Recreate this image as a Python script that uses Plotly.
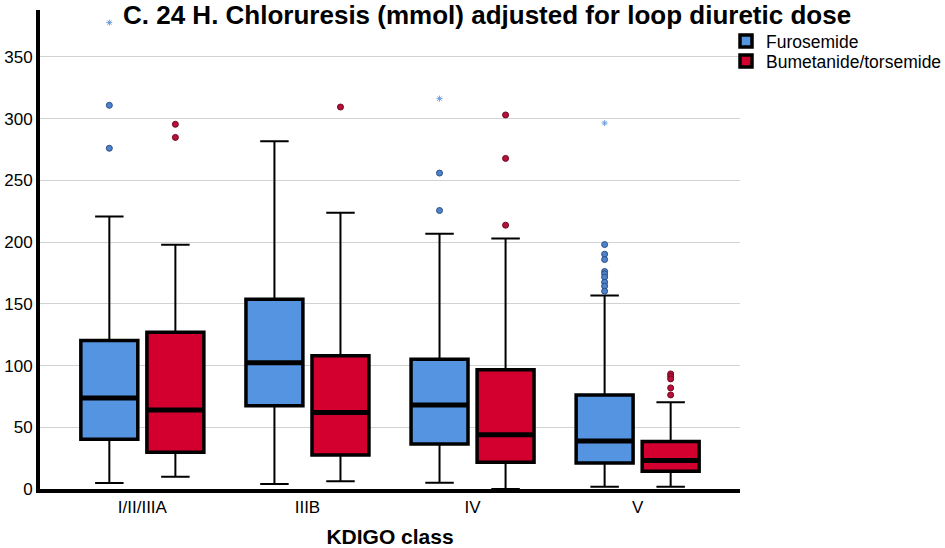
import plotly.graph_objects as go

categories = ["I/II/IIIA", "IIIB", "IV", "V"]
series_names = ["Furosemide", "Bumetanide/torsemide"]

# Furosemide box statistics
furo_q1 = [40.2, 67.5, 36.5, 21.1]
furo_median = [73.8, 102.2, 68.0, 38.9]
furo_q3 = [120.2, 153.8, 105.0, 76.2]
furo_low = [4.9, 4.0, 5.1, 1.9]
furo_high = [220.8, 281.7, 206.7, 156.7]

# Bumetanide/torsemide box statistics
bume_q1 = [29.7, 27.5, 21.6, 14.3]
bume_median = [64.0, 61.9, 44.0, 23.0]
bume_q3 = [127.0, 108.0, 96.5, 38.4]
bume_low = [10.0, 6.2, 0.0, 1.9]
bume_high = [197.8, 223.8, 203.0, 70.2]

# Outliers (circles) and extreme values (stars): category index, value
furo_out_cat = [0, 0, 2, 2, 3, 3, 3, 3, 3, 3, 3, 3, 3]
furo_out_val = [310.8, 276.0, 255.9, 225.6, 198.0, 190.2, 185.9, 176.2, 174.3, 171.6, 167.5, 164.3, 160.2]
furo_ext_cat = [0, 2, 3]
furo_ext_val = [377.8, 316.2, 296.4]

bume_out_cat = [0, 0, 1, 2, 2, 2, 3, 3, 3, 3, 3]
bume_out_val = [295.4, 284.8, 309.4, 303.0, 267.8, 213.7, 93.2, 91.3, 89.2, 81.9, 76.2]

fill_colors = ["#5594e0", "#d3002f"]
pt_fill = ["#4f82c9", "#b8103a"]
pt_line = ["#2a4f86", "#6e0820"]

OFFSET = 0.2
BOXW = 0.345

fig = go.Figure()

series = [
    (furo_q1, furo_median, furo_q3, furo_low, furo_high, -OFFSET),
    (bume_q1, bume_median, bume_q3, bume_low, bume_high, OFFSET),
]
legend_ids = ["legend", "legend2"]

for k, (q1, med, q3, lo, hi, off) in enumerate(series):
    xs = [i + off for i in range(len(categories))]
    # whiskers (thin)
    fig.add_trace(go.Box(
        x=xs, q1=q1, median=med, q3=q3, lowerfence=lo, upperfence=hi,
        width=BOXW, whiskerwidth=0.5, boxpoints=False,
        fillcolor=fill_colors[k], line=dict(color="black", width=2),
        showlegend=False, hoverinfo="skip",
    ))
    # box outline (thicker)
    fig.add_trace(go.Box(
        x=xs, q1=q1, median=med, q3=q3, lowerfence=q1, upperfence=q3,
        width=BOXW, whiskerwidth=0, boxpoints=False,
        fillcolor=fill_colors[k], line=dict(color="black", width=3.5),
        name=series_names[k], showlegend=True, legend=legend_ids[k],
    ))
    # median (thickest)
    fig.add_trace(go.Box(
        x=xs, q1=med, median=med, q3=med, lowerfence=med, upperfence=med,
        width=BOXW, whiskerwidth=0, boxpoints=False,
        fillcolor=fill_colors[k], line=dict(color="black", width=5),
        showlegend=False, hoverinfo="skip",
    ))

fig.add_trace(go.Scatter(
    x=[c - OFFSET for c in furo_out_cat], y=furo_out_val, mode="markers",
    marker=dict(symbol="circle", size=6, color=pt_fill[0], line=dict(color=pt_line[0], width=1)),
    showlegend=False,
))
fig.add_trace(go.Scatter(
    x=[c - OFFSET for c in furo_ext_cat], y=furo_ext_val, mode="markers",
    marker=dict(symbol="asterisk-open", size=5, color="#6f9ee0", line=dict(color="#6f9ee0", width=1)),
    showlegend=False,
))
fig.add_trace(go.Scatter(
    x=[c + OFFSET for c in bume_out_cat], y=bume_out_val, mode="markers",
    marker=dict(symbol="circle", size=6, color=pt_fill[1], line=dict(color=pt_line[1], width=1)),
    showlegend=False,
))

fig.add_annotation(
    text="C. 24 H. Chloruresis (mmol) adjusted for loop diuretic dose",
    xref="paper", yref="paper", x=(487 - 40) / 700, y=1 - 5 / 479, xanchor="center", yanchor="middle",
    showarrow=False, font=dict(family="Liberation Sans, Arial", size=26, color="black", weight="bold"),
)

legend_common = dict(
    xanchor="left", yanchor="middle",
    font=dict(size=17.5, color="black"), bgcolor="rgba(0,0,0,0)",
    itemwidth=30,
)

fig.update_layout(
    width=945, height=548,
    margin=dict(l=40, r=205, t=10, b=59, autoexpand=False),
    paper_bgcolor="white", plot_bgcolor="white",
    boxmode="overlay",
    font=dict(family="Liberation Sans, Arial", color="black"),
    legend=dict(x=(726 - 40) / 700, y=1 - (41 - 10) / 479, **legend_common),
    legend2=dict(x=(726 - 40) / 700, y=1 - (61 - 10) / 479, **legend_common),
    xaxis=dict(
        range=[-0.62, 3.62], tickmode="array", tickvals=list(range(len(categories))),
        ticktext=categories, showgrid=False, zeroline=False, automargin=False,
        showline=True, linecolor="black", linewidth=4, ticks="",
        tickfont=dict(size=17, family="Liberation Sans Narrow, Arial Narrow, Liberation Sans"),
        title=dict(text="<b>KDIGO class</b>", font=dict(size=21), standoff=14),
    ),
    yaxis=dict(
        range=[0, 388], tickmode="array", tickvals=[0, 50, 100, 150, 200, 250, 300, 350],
        showgrid=True, gridcolor="#d2d2d2", gridwidth=1, zeroline=False, automargin=False,
        showline=True, linecolor="black", linewidth=4, ticks="",
        tickfont=dict(size=17),
    ),
)

fig.write_html("out.html", config={"displayModeBar": False},
               post_script="document.body.style.margin='0';")
